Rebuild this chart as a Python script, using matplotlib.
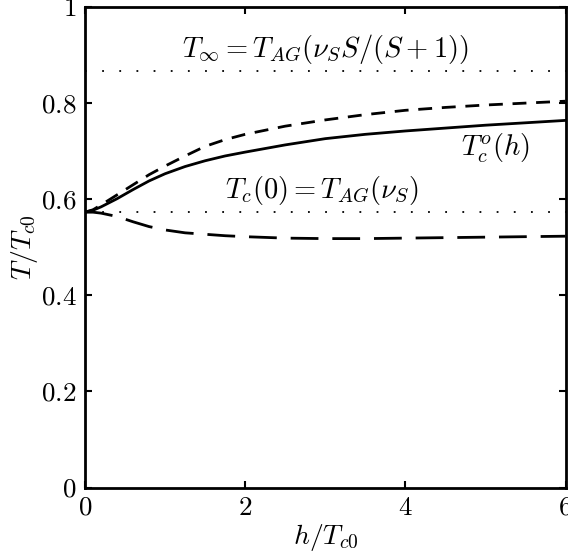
import matplotlib
matplotlib.use("Agg")
import matplotlib.pyplot as plt
import numpy as np

plt.rcParams['mathtext.fontset'] = 'cm'
plt.rcParams['font.family'] = 'serif'
plt.rcParams['font.serif'] = ['cmr10', 'DejaVu Serif']
plt.rcParams['axes.formatter.use_mathtext'] = True

h = [0, 0.1, 0.2, 0.4, 0.6, 0.8, 1.0, 1.25, 1.5, 1.75, 2, 2.5, 3, 3.5, 4, 4.5, 5, 5.5, 6]
tc_solid = [0.573, 0.577, 0.584, 0.601, 0.620, 0.638, 0.653, 0.668, 0.680, 0.690, 0.698,
            0.713, 0.726, 0.735, 0.742, 0.748, 0.754, 0.759, 0.764]
tc_short = [0.573, 0.578, 0.588, 0.609, 0.630, 0.651, 0.669, 0.690, 0.710, 0.724, 0.735,
            0.752, 0.765, 0.776, 0.785, 0.791, 0.796, 0.800, 0.804]
tc_long = [0.573, 0.573, 0.571, 0.564, 0.553, 0.543, 0.536, 0.530, 0.527, 0.524, 0.522,
           0.519, 0.518, 0.518, 0.519, 0.520, 0.521, 0.522, 0.523]
t_inf = 0.866
t_c0 = 0.573

xticks = [0, 2, 4, 6]
yticks = [0, 0.2, 0.4, 0.6, 0.8, 1]
xticklabels = ['$0$', '$2$', '$4$', '$6$']
yticklabels = ['$0$', '$0.2$', '$0.4$', '$0.6$', '$0.8$', '$1$']

fig = plt.figure(figsize=(5.68, 5.56), dpi=100)
ax = fig.add_axes([85/568, 1-487.5/556, 480.5/568, 480.5/556])

ax.plot(h, tc_solid, color='black', lw=2.0, solid_joinstyle='round')
ax.plot(h, tc_short, color='black', lw=2.0, dashes=(5, 3.5))
ax.plot(h, tc_long, color='black', lw=2.0, dashes=(10, 5))
ax.plot([0, 6], [t_inf, t_inf], color='black', lw=1.3, dashes=(1, 8.5))
ax.plot([0, 6], [t_c0, t_c0], color='black', lw=1.3, dashes=(1, 8.5))

ax.text(3.0, 0.912, r'$T_\infty = T_{AG}(\nu_S S/(S+1))$', fontsize=20.5, ha='center', va='center')
ax.text(5.13, 0.706, r'$T_c^o(h)$', fontsize=20.5, ha='center', va='center')
ax.text(2.96, 0.618, r'$T_c(0) = T_{AG}(\nu_S)$', fontsize=20.5, ha='center', va='center')

ax.set_xlim(0, 6)
ax.set_ylim(0, 1)
ax.set_xticks(xticks)
ax.set_xticklabels(xticklabels, fontsize=19.5)
ax.set_yticks(yticks)
ax.set_yticklabels(yticklabels, fontsize=19.5)
ax.tick_params(direction='in', top=True, right=True, length=5, width=1.5, pad=6)
for s in ax.spines.values():
    s.set_linewidth(2.0)

ax.set_xlabel(r'$h/T_{c0}$', fontsize=20, labelpad=2)
ax.set_ylabel(r'$T/T_{c0}$', fontsize=20, labelpad=1)

fig.savefig('out.png', dpi=100)
